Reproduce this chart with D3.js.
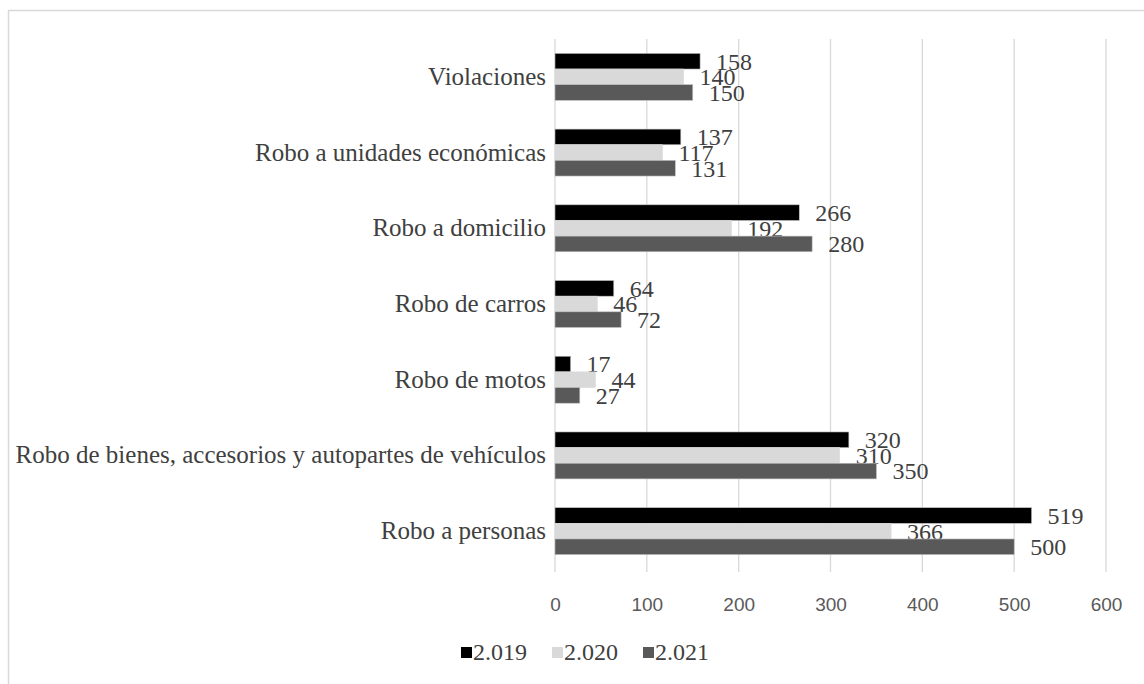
<!DOCTYPE html>
<html>
<head>
<meta charset="utf-8">
<script src="https://cdn.jsdelivr.net/npm/d3@7"></script>
<style>
  body { margin: 0; background: #fff; }
  svg { display: block; }
</style>
</head>
<body>
<svg id="chart" width="1144" height="684"></svg>
<script>
// categories, top to bottom
var categories = [
    "Violaciones",
    "Robo a unidades económicas",
    "Robo a domicilio",
    "Robo de carros",
    "Robo de motos",
    "Robo de bienes, accesorios y autopartes de vehículos",
    "Robo a personas"
];

var seriesNames = ["2.019", "2.020", "2.021"];
var seriesColors = ["#000000", "#d9d9d9", "#595959"];

var values2019 = [158, 137, 266, 64, 17, 320, 519];
var values2020 = [140, 117, 192, 46, 44, 310, 366];
var values2021 = [150, 131, 280, 72, 27, 350, 500];

var xTicks = [0, 100, 200, 300, 400, 500, 600];

var series = [values2019, values2020, values2021];

var serif = "'Liberation Serif', 'Times New Roman', serif";
var sans = "'Liberation Sans', Arial, sans-serif";

var svg = d3.select("#chart");

// frame
svg.append("path")
    .attr("d", "M8.5,684 V10.5 H1144")
    .attr("fill", "none")
    .attr("stroke", "#d9d9d9")
    .attr("stroke-width", 1.5);

var x = d3.scaleLinear()
    .domain([0, 600])
    .range([555, 1106]);

var y = d3.scaleBand()
    .domain(categories)
    .range([39, 569])
    .paddingInner(0.38)
    .paddingOuter(0.19);

var ySub = d3.scaleBand()
    .domain(d3.range(series.length))
    .range([0, y.bandwidth()]);

// gridlines
svg.append("g")
    .selectAll("line")
    .data(xTicks)
    .enter()
    .append("line")
    .attr("x1", function (d) { return x(d); })
    .attr("x2", function (d) { return x(d); })
    .attr("y1", 39)
    .attr("y2", 572)
    .attr("stroke", "#d9d9d9")
    .attr("stroke-width", 1.3);

// x axis labels
var xAxis = d3.axisBottom(x)
    .tickValues(xTicks)
    .tickSize(0)
    .tickPadding(0);

var gx = svg.append("g")
    .attr("transform", "translate(0,597)")
    .call(xAxis);
gx.select(".domain").remove();
gx.selectAll("text")
    .attr("dy", "0.71em")
    .style("font-family", sans)
    .style("font-size", "19px")
    .attr("fill", "#595959");

// category labels
var yAxis = d3.axisLeft(y)
    .tickSize(0)
    .tickPadding(9);

var gy = svg.append("g")
    .attr("transform", "translate(555,0)")
    .call(yAxis);
gy.select(".domain").remove();
gy.selectAll("text")
    .style("font-family", serif)
    .style("font-size", "25px")
    .attr("fill", "#404040");

// bars and labels
series.forEach(function (vals, si) {
    var g = svg.append("g");
    g.selectAll("rect")
        .data(vals)
        .enter()
        .append("rect")
        .attr("x", x(0))
        .attr("y", function (d, i) { return y(categories[i]) + ySub(si); })
        .attr("width", function (d) { return x(d) - x(0); })
        .attr("height", ySub.bandwidth())
        .attr("fill", seriesColors[si])
        .attr("stroke", si === 1 ? "#d9d9d9" : "#bfbfbf")
        .attr("stroke-width", 0.6);

    g.selectAll("text")
        .data(vals)
        .enter()
        .append("text")
        .attr("x", function (d) { return x(d) + 16; })
        .attr("y", function (d, i) {
            return y(categories[i]) + ySub(si) + ySub.bandwidth() / 2;
        })
        .attr("dy", "0.35em")
        .style("font-family", serif)
        .style("font-size", "24px")
        .attr("fill", "#404040")
        .text(function (d) { return d; });
});

// legend
var legendX = [461, 552, 643];
var legend = svg.append("g")
    .selectAll("g")
    .data(seriesNames)
    .enter()
    .append("g")
    .attr("transform", function (d, i) { return "translate(" + legendX[i] + ",652)"; });

legend.append("rect")
    .attr("x", 0)
    .attr("y", -5)
    .attr("width", 11)
    .attr("height", 11)
    .attr("fill", function (d, i) { return seriesColors[i]; });

legend.append("text")
    .attr("x", 12)
    .attr("y", 0)
    .attr("dy", "0.35em")
    .style("font-family", serif)
    .style("font-size", "24px")
    .attr("fill", "#404040")
    .text(function (d) { return d; });
</script>
</body>
</html>
